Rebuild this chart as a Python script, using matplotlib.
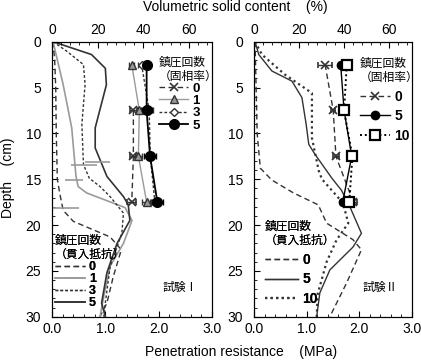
import numpy as np
import matplotlib
matplotlib.use('Agg')
from matplotlib import pyplot as plt
from matplotlib.ticker import MultipleLocator, FormatStrFormatter

plt.rcParams['font.family'] = ['Liberation Sans', 'Noto Sans CJK JP']
plt.rcParams['font.size'] = 10

# solid content sampling depths (cm)
vs_depth = [2.5, 7.5, 12.5, 17.5]

# test I : volumetric solid content (%)
vs1_0_depth = [7.5, 12.5, 17.5]
vs1_0 = [35.6, 35.6, 34.9]
vs1_1 = [34.9, 38.2, 37.8, 41.4]
vs1_3 = [39.2, 42.5, 43.0, 45.0]
vs1_5 = [41.4, 41.4, 42.9, 46.1]
vs1_0_err = [1.5, 1.5, 2.0]
vs1_1_err = [1.0, 1.0, 1.5, 2.0]
vs1_3_err = [1.5, 1.5, 1.5, 2.0]
vs1_5_err = [1.0, 2.5, 2.5, 2.5]

# test I : penetration resistance (MPa)
pr1_0_depth = [0, 2, 5, 10, 15, 16.7, 18.4, 19.6, 21.3, 22.7, 25.6, 28.5, 30]
pr1_0 = [0.02, 0.05, 0.07, 0.08, 0.1, 0.15, 0.21, 0.4, 1.09, 1.3, 1.15, 1.03, 0.9]
pr1_1_depth = [0, 4.7, 9.4, 13.4, 14.7, 15.8, 16.5, 18.1, 19.5, 22, 24.5, 27.8, 30]
pr1_1 = [0.02, 0.21, 0.37, 0.43, 0.45, 0.49, 0.65, 1.37, 1.5, 1.34, 1.09, 0.97, 0.9]
pr1_3_depth = [0, 1.05, 2.5, 4.7, 9, 13.4, 14.9, 15.8, 16.9, 18.7, 20.9, 24.5, 28.5, 30]
pr1_3 = [0.02, 0.28, 0.59, 0.62, 0.56, 0.59, 0.7, 0.9, 1.09, 1.34, 1.31, 1.09, 1.0, 0.97]
pr1_5_depth = [0, 1.4, 2.9, 4.7, 9.4, 11.6, 14.7, 16.9, 17.8, 19.5, 22, 25.2, 28.5, 30]
pr1_5 = [0.02, 0.74, 1.0, 1.02, 0.81, 0.81, 1.03, 1.34, 1.43, 1.46, 1.22, 1.03, 0.93, 1.0]
pr1_err_depth = [13.1, 13.5, 15.1, 18.1]
pr1_err_center = [0.85, 0.6, 0.41, 0.25]
pr1_err_half = [0.24, 0.25, 0.17, 0.25]

# test II : volumetric solid content (%)
vs2_0 = [31.5, 35.1, 36.3, 44.0]
vs2_5 = [38.4, 39.9, 43.3, 39.3]
vs2_10 = [41.1, 39.9, 43.6, 42.2]
vs2_0_err = [3.0, 1.0, 1.5, 1.5]
vs2_5_err = [0.8, 0.8, 0.8, 1.0]
vs2_10_err = [0.8, 0.8, 0.8, 1.5]

# test II : penetration resistance (MPa)
pr2_0_depth = [0, 5, 10, 13.8, 15.1, 16.5, 17.8, 19.8, 21.6, 22.7, 26.3, 30]
pr2_0 = [0.02, 0.04, 0.06, 0.12, 0.34, 0.75, 1.22, 1.38, 1.88, 2.04, 1.76, 1.44]
pr2_5_depth = [0, 1.4, 3.2, 4.3, 6.1, 9, 11.2, 12.3, 14.9, 16.2, 18, 20.9, 22.4, 24.9, 27.4, 30]
pr2_5 = [0.02, 0.09, 0.34, 0.72, 0.91, 0.99, 1.04, 1.16, 1.48, 1.66, 1.82, 2.04, 1.88, 1.44, 1.25, 1.19]
pr2_10_depth = [0, 1.4, 3.6, 5.6, 10.5, 14.1, 15, 17.6, 19.8, 21.6, 24, 27.5, 30]
pr2_10 = [0.02, 0.15, 0.59, 1.1, 1.1, 1.23, 1.29, 1.69, 1.79, 1.57, 1.38, 1.21, 1.19]

dark = '#333333'
gray = '#9a9a9a'
dash = (0, (4, 2.5))
short = (0, (2, 1.5))
dot = (0, (1, 1.5))

fig = plt.figure(figsize=(4.21, 3.64), dpi=100)
axL = fig.add_axes([52 / 421, 1 - 316.7 / 364, 160 / 421, 275 / 364])
axR = fig.add_axes([254 / 421, 1 - 316.7 / 364, 158 / 421, 275 / 364])


def style(ax):
    ax.set_xlim(0, 3)
    ax.set_ylim(30, 0)
    ax.xaxis.set_major_locator(MultipleLocator(1))
    ax.xaxis.set_minor_locator(MultipleLocator(0.2))
    ax.xaxis.set_major_formatter(FormatStrFormatter('%.1f'))
    ax.yaxis.set_major_locator(MultipleLocator(5))
    ax.yaxis.set_minor_locator(MultipleLocator(1))
    ax.tick_params(which='both', direction='in', top=False, right=False, labelsize=10)
    ax.tick_params(which='major', length=4)
    ax.tick_params(which='minor', length=2.5)
    ax.tick_params(axis='y', pad=8)
    ax2 = ax.twiny()
    ax2.set_xlim(0, 70)
    ax2.xaxis.set_major_locator(MultipleLocator(20))
    ax2.xaxis.set_minor_locator(MultipleLocator(4))
    ax2.tick_params(which='both', direction='in', labelsize=10)
    ax2.tick_params(which='major', length=4)
    ax2.tick_params(which='minor', length=2.5)
    return ax2


def add_legend(ax, handles, labels, title, loc, anchor, spacing, hlen, size=10):
    leg = ax.legend(handles, labels, title=title, loc=loc, bbox_to_anchor=anchor,
                    frameon=False, handlelength=hlen, handletextpad=0.3,
                    labelspacing=spacing, borderaxespad=0, borderpad=0,
                    alignment='left', prop={'weight': 'bold', 'size': size},
                    title_fontsize=8.5)
    ax.add_artist(leg)
    return leg


tL = style(axL)
tR = style(axR)

# ---- test I penetration
l0, = axL.plot(pr1_0, pr1_0_depth, color=dark, lw=1.0, ls=dash)
l1, = axL.plot(pr1_1, pr1_1_depth, color=gray, lw=1.2)
l3, = axL.plot(pr1_3, pr1_3_depth, color=dark, lw=1.0, ls=short)
l5, = axL.plot(pr1_5, pr1_5_depth, color=dark, lw=1.2)
axL.errorbar(pr1_err_center, pr1_err_depth, xerr=pr1_err_half, fmt='none',
             ecolor=gray, elinewidth=1.2, capsize=0)

# ---- test I solid content
ek = dict(capsize=2, elinewidth=1.0, capthick=1.0)
m0 = tL.errorbar(vs1_0, vs1_0_depth, xerr=vs1_0_err, color=dark, ls=dash, lw=1.0,
                 marker='x', ms=6, mew=1.2, **ek)
m1 = tL.errorbar(vs1_1, vs_depth, xerr=vs1_1_err, color=gray, ecolor=dark, lw=1.0,
                 marker='^', ms=6, mfc=gray, mec=dark, **ek)
m3 = tL.errorbar(vs1_3, vs_depth, xerr=vs1_3_err, color=dark, ls=short, lw=1.0,
                 marker='D', ms=4, mfc='white', mec=dark, **ek)
m5 = tL.errorbar(vs1_5, vs_depth, xerr=vs1_5_err, color='black', lw=1.3,
                 marker='o', ms=7, mfc='black', **ek)

add_legend(axL, [m0[0], m1[0], m3[0], m5[0]], ['0', '1', '3', '5'],
           '鎮圧回数\n（固相率）', 'upper left', (0.67, 0.945), 0.0, 2.2, 9.5)
add_legend(axL, [l0, l1, l3, l5], ['0', '1', '3', '5'],
           '鎮圧回数\n（貫入抵抗）', 'lower left', (0.02, 0.028), 0.0, 2.4, 9)
axL.text(0.80, 0.105, '試験Ⅰ', transform=axL.transAxes, ha='center', va='center',
         fontsize=8.5)

# ---- test II penetration
r0, = axR.plot(pr2_0, pr2_0_depth, color=dark, lw=1.0, ls=dash)
r5, = axR.plot(pr2_5, pr2_5_depth, color=dark, lw=1.0)
r10, = axR.plot(pr2_10, pr2_10_depth, color=dark, lw=1.6, ls=dot)

# ---- test II solid content
n0 = tR.errorbar(vs2_0, vs_depth, xerr=vs2_0_err, color=dark, ls=dash, lw=1.0,
                 marker='x', ms=6, mew=1.2, **ek)
n5 = tR.errorbar(vs2_5, vs_depth, xerr=vs2_5_err, color='black', lw=1.0,
                 marker='o', ms=6, mfc='black', **ek)
n10 = tR.errorbar(vs2_10, vs_depth, xerr=vs2_10_err, color='black', ls=dot, lw=1.4,
                  marker='s', ms=7, mfc='white', mec='black', mew=1.6, **ek)

add_legend(axR, [n0[0], n5[0], n10[0]], ['0', '5', '10'],
           '鎮圧回数\n（固相率）', 'upper left', (0.67, 0.94), 0.4, 2.2)
add_legend(axR, [r0, r5, r10], ['0', '5', '10'],
           '鎮圧回数\n（貫入抵抗）', 'lower left', (0.07, 0.038), 0.42, 2.4)
axR.text(0.80, 0.105, '試験Ⅱ', transform=axR.transAxes, ha='center', va='center',
         fontsize=8.5)

fig.text(235 / 421, 1 - 7 / 364, 'Volumetric solid content    (%)', ha='center',
         va='center', fontsize=10)
fig.text(241 / 421, 1 - 352 / 364, 'Penetration resistance    (MPa)', ha='center',
         va='center', fontsize=10)
fig.text(8 / 421, 1 - 178 / 364, 'Depth    (cm)', ha='center', va='center',
         rotation=90, fontsize=10)

fig.savefig('out.png', dpi=100)
